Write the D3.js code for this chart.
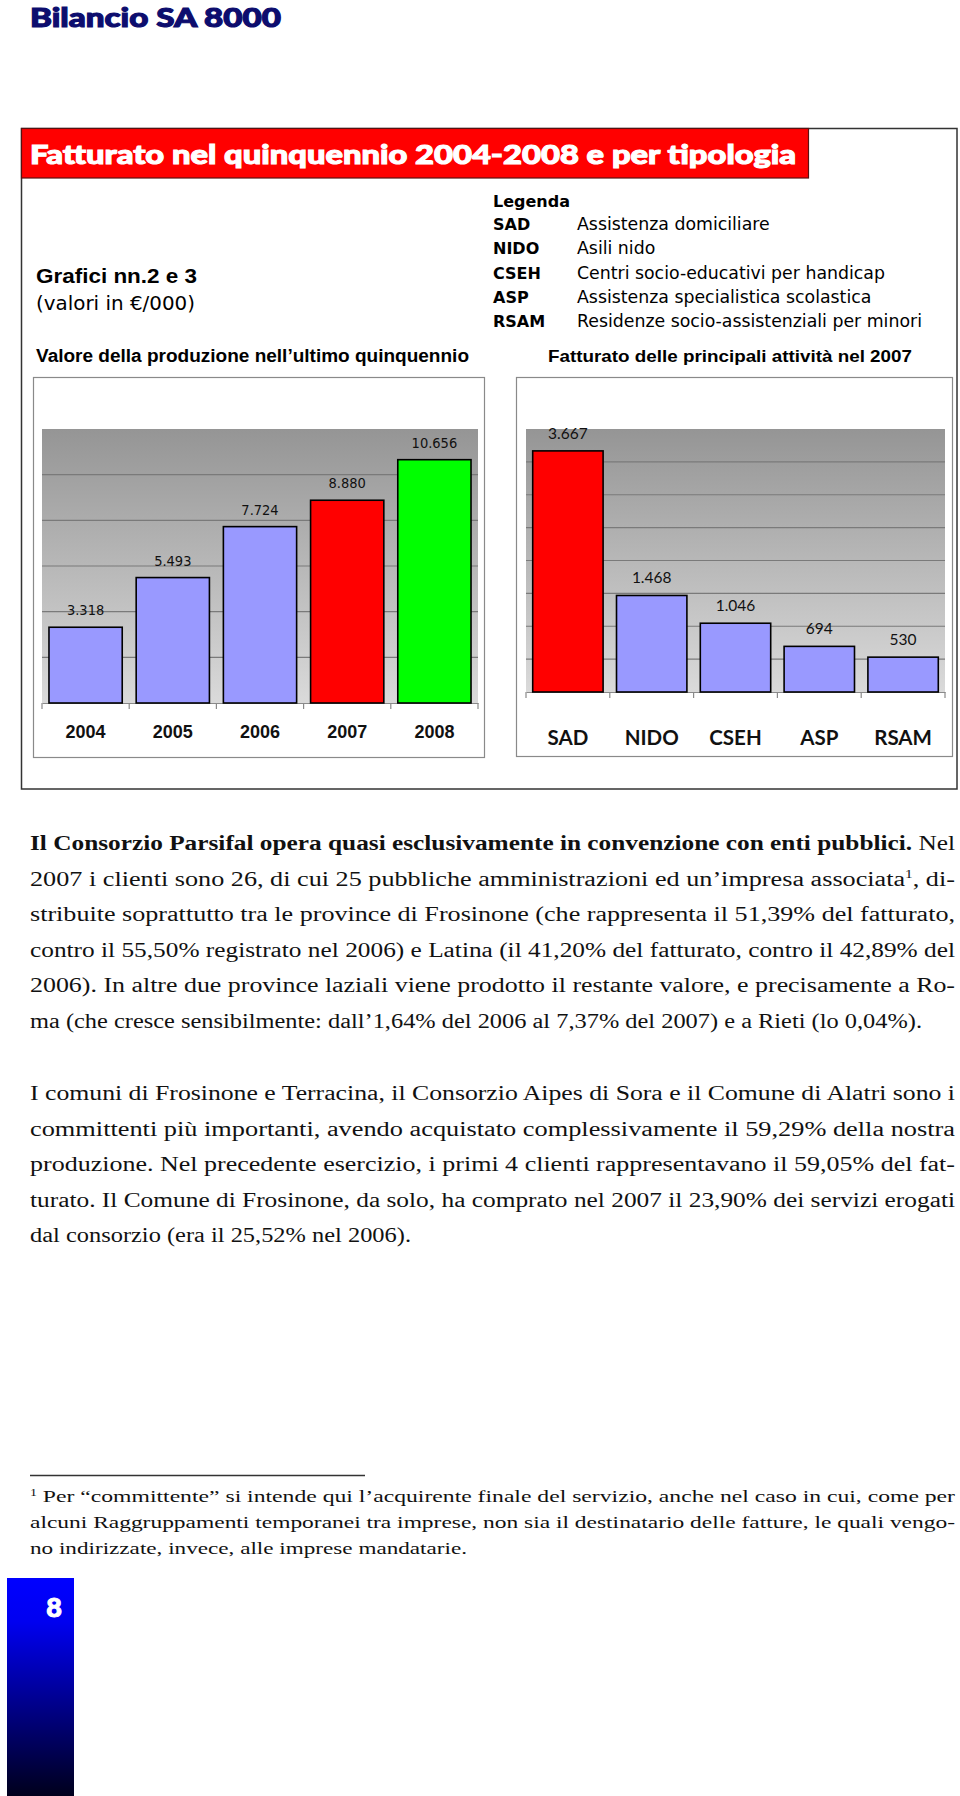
<!DOCTYPE html>
<html>
<head>
<meta charset="utf-8">
<script src="https://cdn.jsdelivr.net/npm/d3@7"></script>
<style>
  body { margin: 0; background: #fff; }
  svg { display: block; }
</style>
</head>
<body>
<script>
// chart data (values in €/000)
var years = ['2004', '2005', '2006', '2007', '2008'];
var production = [3318, 5493, 7724, 8880, 10656];
var yearColors = ['#9999ff', '#9999ff', '#9999ff', '#ff0000', '#00ff00'];

var activities = ['SAD', 'NIDO', 'CSEH', 'ASP', 'RSAM'];
var revenue2007 = [3667, 1468, 1046, 694, 530];
var activityColors = ['#ff0000', '#9999ff', '#9999ff', '#9999ff', '#9999ff'];
var activityNames = [
  'Assistenza domiciliare',
  'Asili nido',
  'Centri socio-educativi per handicap',
  'Assistenza specialistica scolastica',
  'Residenze socio-assistenziali per minori'
];

// body text, one entry per printed line
var para1 = [
  'stribuite soprattutto tra le province di Frosinone (che rappresenta il 51,39%  del fatturato,',
  'contro il 55,50%  registrato nel 2006) e Latina (il 41,20%  del fatturato, contro il 42,89%  del',
  '2006). In altre due province laziali viene prodotto il restante valore, e precisamente a Ro-',
  'ma (che cresce sensibilmente: dall’1,64%  del 2006 al 7,37%  del 2007) e a Rieti (lo 0,04%).'
];
var para2 = [
  'I comuni di Frosinone e Terracina, il Consorzio Aipes di Sora e il Comune di Alatri sono i',
  'committenti più importanti, avendo acquistato complessivamente il 59,29%  della nostra',
  'produzione. Nel precedente esercizio, i primi 4 clienti rappresentavano il 59,05%  del fat-',
  'turato. Il Comune di Frosinone, da solo, ha comprato nel 2007 il 23,90%  dei servizi erogati',
  'dal consorzio (era il 25,52%  nel 2006).'
];
var footnote = [
  ' Per “committente” si intende qui l’acquirente finale del servizio, anche nel caso in cui, come per',
  'alcuni Raggruppamenti temporanei tra imprese, non sia il destinatario delle fatture, le quali vengo-',
  'no indirizzate, invece, alle imprese mandatarie.'
];

var itFormat = d3.formatLocale({decimal: ',', thousands: '.', grouping: [3], currency: ['€', '']}).format(',d');

var svg = d3.select('body').append('svg')
    .attr('width', 960)
    .attr('height', 1796);

var defs = svg.append('defs');
var plotGrad = defs.append('linearGradient').attr('id', 'plotGrad')
    .attr('x1', 0).attr('y1', 0).attr('x2', 0).attr('y2', 1);
plotGrad.append('stop').attr('offset', '0%').attr('stop-color', '#959595');
plotGrad.append('stop').attr('offset', '100%').attr('stop-color', '#dadada');

var pageGrad = defs.append('linearGradient').attr('id', 'pageGrad')
    .attr('x1', 0).attr('y1', 0).attr('x2', 0).attr('y2', 1);
pageGrad.append('stop').attr('offset', '0%').attr('stop-color', '#0000ff');
pageGrad.append('stop').attr('offset', '20%').attr('stop-color', '#0000f0');
pageGrad.append('stop').attr('offset', '100%').attr('stop-color', '#00001c');

var headFont = '"DejaVu Sans", Verdana, sans-serif';
var boldHead = '"Liberation Sans", Arial, sans-serif';
var heavyFont = 'Lato, "DejaVu Sans", sans-serif';
var serifFont = '"Liberation Serif", "DejaVu Serif", serif';

// page header (stroke thickens the bold face to a heavy one)
svg.append('text')
    .attr('x', 30).attr('y', 27)
    .attr('textLength', 251).attr('lengthAdjust', 'spacingAndGlyphs')
    .style('font-family', heavyFont).style('font-weight', 900)
    .style('font-size', '26px').style('fill', '#0d0d6e')
    .style('stroke', '#0d0d6e').style('stroke-width', 1.1)
    .text('Bilancio SA 8000');

// outer frame
svg.append('rect')
    .attr('x', 21.5).attr('y', 128.5).attr('width', 935.5).attr('height', 660.5)
    .attr('fill', 'none').attr('stroke', '#333').attr('stroke-width', 1.5);

// red banner
svg.append('rect')
    .attr('x', 21.5).attr('y', 128.5).attr('width', 787).attr('height', 49.5)
    .attr('fill', '#ff0000').attr('stroke', '#5a1010').attr('stroke-width', 1.2);
svg.append('text')
    .attr('x', 30).attr('y', 164)
    .attr('textLength', 766).attr('lengthAdjust', 'spacingAndGlyphs')
    .style('font-family', heavyFont).style('font-weight', 900)
    .style('font-size', '27px').style('fill', '#fff')
    .style('stroke', '#fff').style('stroke-width', 1.1)
    .text('Fatturato nel quinquennio 2004-2008 e per tipologia');

// left captions
svg.append('text')
    .attr('x', 36).attr('y', 283)
    .attr('textLength', 161).attr('lengthAdjust', 'spacingAndGlyphs')
    .style('font-family', boldHead).style('font-weight', 'bold').style('font-size', '21px')
    .text('Grafici nn.2 e 3');
svg.append('text')
    .attr('x', 36).attr('y', 310)
    .attr('textLength', 159).attr('lengthAdjust', 'spacingAndGlyphs')
    .style('font-family', headFont).style('font-size', '20px')
    .text('(valori in €/000)');
svg.append('text')
    .attr('x', 36).attr('y', 362)
    .attr('textLength', 433).attr('lengthAdjust', 'spacingAndGlyphs')
    .style('font-family', boldHead).style('font-weight', 'bold').style('font-size', '17.5px')
    .text('Valore della produzione nell’ultimo quinquennio');
svg.append('text')
    .attr('x', 548).attr('y', 362)
    .attr('textLength', 364).attr('lengthAdjust', 'spacingAndGlyphs')
    .style('font-family', boldHead).style('font-weight', 'bold').style('font-size', '17px')
    .text('Fatturato delle principali attività nel 2007');

// legend
var legend = svg.append('g').style('font-family', headFont).style('font-size', '16px');
legend.append('text')
    .attr('x', 493).attr('y', 207)
    .style('font-weight', 'bold')
    .text('Legenda');
var legendRow = d3.scaleBand().domain(activities).range([230 - 12, 327 + 12]);
var rows = legend.selectAll('g.row').data(activities).enter().append('g').attr('class', 'row');
rows.append('text')
    .attr('x', 493).attr('y', function(d) { return legendRow(d) + legendRow.bandwidth() / 2; })
    .style('font-weight', 'bold')
    .text(function(d) { return d; });
var descs = rows.append('text')
    .attr('x', 577).attr('y', function(d) { return legendRow(d) + legendRow.bandwidth() / 2; })
    .text(function(d, i) { return activityNames[i]; });
// fit the descriptions so the longest ends where it does in print
var longest = d3.max(descs.nodes(), function(n) { return n.getComputedTextLength(); });
descs.style('font-size', (16 * 345 / longest) + 'px');

// draw one bar chart inside its frame
function barChart(opts) {
    var g = svg.append('g');

    g.append('rect')
        .attr('x', opts.box[0] + 0.5).attr('y', opts.box[1] + 0.5)
        .attr('width', opts.box[2] - opts.box[0]).attr('height', opts.box[3] - opts.box[1])
        .attr('fill', '#fff').attr('stroke', '#8a8a8a').attr('stroke-width', 1.2);

    var x = d3.scaleBand()
        .domain(opts.cats)
        .range([opts.plot[0], opts.plot[2]])
        .paddingInner(0.16)
        .paddingOuter(0.08);
    var y = d3.scaleLinear()
        .domain([0, opts.max])
        .range([opts.plot[3], opts.plot[1]]);

    g.append('rect')
        .attr('x', opts.plot[0]).attr('y', opts.plot[1])
        .attr('width', opts.plot[2] - opts.plot[0]).attr('height', opts.plot[3] - opts.plot[1])
        .attr('fill', 'url(#plotGrad)');

    // gridlines
    g.selectAll('line.grid')
        .data(d3.range(opts.step, opts.max, opts.step))
        .enter().append('line')
        .attr('class', 'grid')
        .attr('x1', opts.plot[0]).attr('x2', opts.plot[2])
        .attr('y1', function(d) { return y(d); })
        .attr('y2', function(d) { return y(d); })
        .attr('stroke', '#7a7a7a').attr('stroke-width', 1.2);

    // category axis: baseline + ticks on band boundaries
    var axis = g.append('g')
        .attr('transform', 'translate(0,' + opts.plot[3] + ')')
        .call(d3.axisBottom(x).tickSize(0).tickPadding(opts.labelPad));
    axis.select('.domain').attr('stroke', '#8a8a8a').attr('stroke-width', 1.2);
    axis.selectAll('text')
        .style('font-family', opts.catFont).style('font-weight', 'bold')
        .style('font-size', opts.catSize).style('fill', '#111');
    axis.selectAll('line.bound')
        .data(d3.range(opts.cats.length + 1))
        .enter().append('line')
        .attr('class', 'bound')
        .attr('x1', function(i) { return x.range()[0] + i * x.step(); })
        .attr('x2', function(i) { return x.range()[0] + i * x.step(); })
        .attr('y1', 0).attr('y2', 6)
        .attr('stroke', '#8a8a8a').attr('stroke-width', 1.2);

    // bars
    g.selectAll('rect.bar')
        .data(opts.vals)
        .enter().append('rect')
        .attr('class', 'bar')
        .attr('x', function(d, i) { return x(opts.cats[i]); })
        .attr('y', function(d) { return y(d); })
        .attr('width', x.bandwidth())
        .attr('height', function(d) { return y(0) - y(d); })
        .attr('fill', function(d, i) { return opts.colors[i]; })
        .attr('stroke', '#000').attr('stroke-width', 1.6);

    // value labels
    g.selectAll('text.val')
        .data(opts.vals)
        .enter().append('text')
        .attr('class', 'val')
        .attr('x', function(d, i) { return x(opts.cats[i]) + x.bandwidth() / 2; })
        .attr('y', function(d) { return y(d) - 12; })
        .attr('text-anchor', 'middle')
        .style('font-family', opts.valFont).style('font-size', opts.valSize).style('fill', '#111')
        .text(function(d) { return itFormat(d); });
}

barChart({
    cats: years, vals: production, colors: yearColors,
    box: [33, 377, 484, 757], plot: [42, 429, 478, 703],
    max: 12000, step: 2000,
    catFont: '"Liberation Sans", Arial, sans-serif', catSize: '18px', labelPad: 22,
    valFont: '"DejaVu Sans Condensed", "DejaVu Sans", sans-serif', valSize: '14.5px'
});

barChart({
    cats: activities, vals: revenue2007, colors: activityColors,
    box: [516, 377, 952, 756], plot: [526, 429, 945, 692],
    max: 4000, step: 500,
    catFont: 'Lato, "Liberation Sans", sans-serif', catSize: '20.5px', labelPad: 38,
    valFont: 'Lato, "Liberation Sans", sans-serif', valSize: '15.5px'
});

// body text, justified line by line (glyphs stretched to the printed width)
var body = svg.append('g').style('font-family', serifFont).style('fill', '#111');
var fullWidth = 925;
var bodySize = '20.5px';

var l1 = body.append('text')
    .attr('x', 30).attr('y', 850)
    .attr('textLength', fullWidth).attr('lengthAdjust', 'spacingAndGlyphs')
    .style('font-size', bodySize);
l1.append('tspan').style('font-weight', 'bold')
    .text('Il Consorzio Parsifal opera quasi esclusivamente in convenzione con enti pubblici.');
l1.append('tspan').text(' Nel');

var l2 = body.append('text')
    .attr('x', 30).attr('y', 885.5)
    .attr('textLength', fullWidth).attr('lengthAdjust', 'spacingAndGlyphs')
    .style('font-size', bodySize);
l2.append('tspan').text('2007 i clienti sono 26, di cui 25 pubbliche amministrazioni ed un’impresa associata');
l2.append('tspan').attr('dy', -8).style('font-size', '12px').text('1');
l2.append('tspan').attr('dy', 8).text(', di-');

body.selectAll('text.p1')
    .data(para1)
    .enter().append('text')
    .attr('class', 'p1')
    .attr('x', 30)
    .attr('y', function(d, i) { return 921 + i * 35.5; })
    .attr('textLength', function(d, i) { return i === para1.length - 1 ? 892 : fullWidth; })
    .attr('lengthAdjust', 'spacingAndGlyphs')
    .style('font-size', bodySize)
    .text(function(d) { return d; });

body.selectAll('text.p2')
    .data(para2)
    .enter().append('text')
    .attr('class', 'p2')
    .attr('x', 30)
    .attr('y', function(d, i) { return 1100 + i * 35.5; })
    .attr('textLength', function(d, i) { return i === para2.length - 1 ? 381 : fullWidth; })
    .attr('lengthAdjust', 'spacingAndGlyphs')
    .style('font-size', bodySize)
    .text(function(d) { return d; });

// footnote
body.append('line')
    .attr('x1', 30).attr('x2', 365).attr('y1', 1475.5).attr('y2', 1475.5)
    .attr('stroke', '#333').attr('stroke-width', 1.3);
var notes = body.selectAll('text.fn')
    .data(footnote)
    .enter().append('text')
    .attr('class', 'fn')
    .attr('x', 30)
    .attr('y', function(d, i) { return 1502 + i * 26; })
    .attr('textLength', function(d, i) { return i === footnote.length - 1 ? 437 : fullWidth; })
    .attr('lengthAdjust', 'spacingAndGlyphs')
    .style('font-size', '17px');
notes.each(function(d, i) {
    var t = d3.select(this);
    if (i === 0) {
        t.append('tspan').attr('dy', -6).style('font-size', '10px').text('1');
        t.append('tspan').attr('dy', 6).text(d);
    } else {
        t.text(d);
    }
});

// page number tab
svg.append('rect')
    .attr('x', 7).attr('y', 1578).attr('width', 67).attr('height', 218)
    .attr('fill', 'url(#pageGrad)');
svg.append('text')
    .attr('x', 54).attr('y', 1617)
    .attr('text-anchor', 'middle')
    .style('font-family', heavyFont).style('font-weight', 900)
    .style('font-size', '27px').style('fill', '#fff')
    .style('stroke', '#fff').style('stroke-width', 1)
    .text('8');
</script>
</body>
</html>
